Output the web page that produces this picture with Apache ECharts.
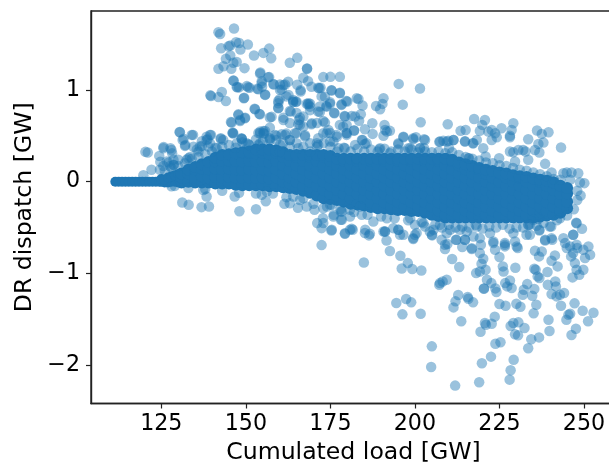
<!DOCTYPE html>
<html>
<head>
<meta charset="utf-8">
<script src="https://cdn.jsdelivr.net/npm/echarts@6/dist/echarts.min.js"></script>
<style>
html, body { margin: 0; padding: 0; background: #fff; }
#chart { width: 609px; height: 466px; }
</style>
</head>
<body>
<div id="chart"></div>
<script>
const xTicks = [125, 150, 175, 200, 225, 250];
const yTicks = [-2, -1, 0, 1];

// [load, dispatch]: the scattered points above the band
const upperPoints = [
[146.5,1.67],[141.9,1.63],[142.4,1.61],[142.7,1.455],[144.9,1.477],[145.4,1.484],[147.1,1.52],[148,1.513],[150.6,1.495],[148.4,1.44],
[156.9,1.451],[155.2,1.404],[152.4,1.375],[157.5,1.346],[165.2,1.35],[163,1.296],[168.1,1.23],[168.1,1.235],[145.4,1.375],[144.1,1.339],
[147.3,1.306],[141.9,1.23],[143.4,1.259],[145.7,1.23],[146.3,1.296],[149.6,1.238],[154.3,1.19],[156.9,1.14],[154.7,1.096],[146.4,1.1],
[147.3,1.031],[148,1.028],[150.3,1.042],[151.1,1.024],[153.4,1.013],[154.8,1.035],[155.7,0.951],[158.3,1.06],[160.1,1.06],[160.6,1.006],
[161.6,1.06],[162.5,1.089],[165.2,1.056],[166.2,0.998],[167,1.133],[168.4,1.096],[169.4,1.035],[171.4,1.024],[172.1,1.024],[172.9,1.14],
[175,1.143],[177.8,1.143],[175.3,0.998],[177.8,0.969],[173.4,0.926],[179.7,0.879],[178.3,0.843],[173.8,0.825],[171.9,0.759],[176.1,0.752],
[179.2,0.716],[172.9,0.662],[139.5,0.941],[139.7,0.933],[141.9,0.922],[142.9,0.977],[144.1,0.879],[149.5,0.915],[152.6,0.796],[147.8,0.734],
[149.8,0.698],[154.2,0.734],[145.6,0.651],[148.3,0.662],[157.6,0.708],[159.6,0.879],[159.6,0.806],[160,0.9],[164,0.868],[164.8,0.87],
[168.4,0.843],[169,0.85],[163,0.77],[161.1,0.698],[166,0.698],[165.5,0.625],[169.4,0.625],[167.5,0.506],[160.6,0.517],[162,0.524],
[155.2,0.553],[155.4,0.525],[157.1,0.589],[146.1,0.535],[148.8,0.469],[130.4,0.542],[131.6,0.469],[132.1,0.4],[134.4,0.51],[139.7,0.51],
[142.6,0.473],[138.7,0.462],[137,0.39],[120.3,0.325],[121,0.318],[125.7,0.379],[127.7,0.364],[128.2,0.31],[124.4,0.281],[124.7,0.216],
[127.2,0.21],[128.7,0.183],[122.1,0.129],[172.9,0.528],[174.9,0.53],[176.9,0.49],[171,0.42],[178.8,0.6],[179.8,0.53],[163,0.64],
[167,0.71],[169,0.78],[165,0.75],[162,0.93],[164,0.89],[168,0.85],[172.4,0.93],[174.9,0.85],[171.9,0.82],[167,0.6],[165,0.53],
[171,0.64],[163,0.455],[159,0.455],[153.7,0.53],[137,0.44],[138.4,0.49],[133.5,0.27],[135.5,0.35],[132.5,0.24],[143.3,0.455],[147.3,0.42],
[150.2,0.42],[154.2,0.42],[157.1,0.455],[139.4,0.42],[134.5,0.38],[128.6,0.24],[125.6,0.17],[127.6,0.17],[124.6,0.13],[119.7,0.07],
[195.2,1.066],[201.5,1.015],[196.4,0.84],[201.7,0.648],[209.7,0.626],[217.5,0.684],[220.7,0.673],[219.9,0.619],[190.7,0.91],[183.3,0.902],
[184.5,0.83],[188.5,0.826],[190.4,0.848],[189.7,0.79],[184,0.735],[181.3,0.717],[183.5,0.663],[187.4,0.637],[191,0.619],[185.2,0.572],
[182,0.557],[191.2,0.564],[192.6,0.554],[187.5,0.521],[190.7,0.5],[184.5,0.455],[185.2,0.412],[195.1,0.408],[196.6,0.485],[199.5,0.463],
[200.3,0.485],[202.7,0.463],[198,0.365],[201.5,0.365],[202.7,0.365],[189.5,0.354],[192.6,0.31],[207.2,0.434],[208.4,0.445],[209.9,0.445],
[211.4,0.455],[210.1,0.365],[213.5,0.554],[215,0.564],[214.8,0.441],[217.1,0.419],[218.3,0.455],[219.2,0.554],[220.2,0.365],[222.7,0.564],
[221.7,0.546],[223.7,0.528],[225.6,0.583],[229.1,0.637],[228.6,0.564],[224.2,0.485],[222.7,0.455],[228.1,0.5],[228.1,0.485],[228.1,0.328],
[229.1,0.32],[230.6,0.346],[232,0.346],[232.7,0.328],[233.5,0.463],[236.1,0.557],[237.5,0.521],[239.5,0.539],[238,0.426],[236.5,0.412],
[235.5,0.346],[236.8,0.318],[243.2,0.372],[220.9,0.274],[224.9,0.256],[216,0.256],[229.6,0.22],[233.5,0.238],[238.5,0.194],[240.4,0.1],
[243.9,0.092],[244.9,0.1],[246.3,0.1],[248.3,0.092],[248.8,-0.009],[250.1,-0.016],[245.9,0.02],
[175.9,0.437],[179.8,0.528],[184.3,0.455],[185.7,0.419],[189.7,0.364],[191.7,0.546],[195.1,0.419],[196.6,0.491],[199.5,0.473],[198.6,0.364],
[203,0.455],[201.5,0.364],[207.4,0.437],[209.4,0.437],[211.4,0.455],[214.8,0.437],[217.3,0.419],[215.8,0.255],[177.4,0.364],[182.8,0.255]
];

// second reading of the busy part above the band
const midPoints = [
[154.2,1.18],[156.6,1.138],[146.3,1.102],[147.5,1.029],[150.7,1.029],[149.4,0.909],[153.7,1.007],[154.7,1.073],[155.7,0.946],[158.1,1.065],
[161.1,1.055],[160.1,1],[162.6,0.946],[159.6,0.855],[159.6,0.8],[164,0.873],[165,0.873],[166.2,0.982],[168.5,0.855],[169,0.818],
[171.4,0.764],[173.9,0.818],[174.9,0.866],[171.7,1.018],[175.4,0.993],[177.8,0.964],[178.3,0.837],[180,0.873],[182.8,0.909],[176.2,0.746],
[179.3,0.71],[182.3,0.71],[177.8,0.619],[182,0.557],[179.8,0.619],[147.8,0.728],[149.7,0.691],[145.8,0.644],[148.3,0.673],[152.7,0.79],
[154,0.739],[157.1,0.699],[161.1,0.673],[163.3,0.764],[165.7,0.673],[166,0.619],[169.5,0.637],[173.4,0.644],[174.4,0.564],[154.2,0.546],
[155.2,0.528],[155.7,0.553],[158.6,0.51],[161.6,0.51],[164.5,0.528],[167.5,0.492],[171.4,0.473],[173.9,0.528],[176.8,0.51],[179.8,0.51],
[146.3,0.528],[148.7,0.474],[153.7,0.401],[157.1,0.474],[160.1,0.401],[163,0.455],[165.5,0.365],[171.4,0.401],[174.9,0.437],[179.3,0.365],
[182.3,0.401],[169,0.328],[160.1,0.328],
[130.5,0.539],[131.3,0.455],[132,0.39],[134,0.51],[139.4,0.51],[138.4,0.455],[142.6,0.466],[136.4,0.383],[138.9,0.383],[125.6,0.364],
[128,0.346],[126.6,0.219],[133,0.255],[128.6,0.183],[146.1,0.528],[148.8,0.466],[150.7,0.411],[141.4,0.364],[154.2,0.528]
];

// the scattered points below the band
const lowerPoints = [
[131.2,-0.227],[133.1,-0.253],[136.9,-0.278],[139.1,-0.271],[138.4,-0.162],[137.4,-0.09],[129,-0.046],[146.7,-0.162],[148.1,-0.322],[153,-0.3],
[155.9,-0.213],[154.7,-0.144],[161.4,-0.242],[165.4,-0.285],[170.3,-0.307],[172.9,-0.289],[172.8,-0.398],[171.1,-0.452],[172.9,-0.452],[172.4,-0.507],
[175.3,-0.532],[172.4,-0.692],[176,-0.362],[178.1,-0.325],[178.1,-0.416],[179.3,-0.569],[180.8,-0.525],[180.8,-0.38],[164,-0.162],[168,-0.27],
[167,-0.18],[174.9,-0.253],[163,-0.235],[156.2,-0.107],
[184.9,-0.881],[192.6,-0.757],[195.7,-0.808],[197.9,-0.888],[196.1,-0.946],[199.2,-0.953],[201.9,-0.968],[194.5,-1.324],[197.4,-1.28],[198.9,-1.316],
[196.3,-1.447],[201.7,-1.44],[205,-1.796],[204.8,-2.021],[211.9,-2.224],[219,-2.188],[219.8,-1.981],[222.5,-1.908],[229.2,-1.941],[228.3,-2.057],
[228,-2.159],[233.5,-1.817],[234.4,-1.719],[236.7,-1.698],[223.8,-1.767],[225.3,-1.752],[219.4,-1.636],[221,-1.56],[220.7,-1.542],[222.7,-1.549],
[223.6,-1.472],[213.7,-1.523],[211.4,-1.371],[212,-1.305],[212.8,-1.236],[215.6,-1.258],[215.8,-1.276],[217.2,-1.316],[225,-1.334],[226.8,-1.353],
[230,-1.331],[231.2,-1.364],[235.9,-1.342],[235.1,-1.436],[239.5,-1.505],[239.8,-1.629],[243.2,-1.353],[247.2,-1.327],[249.6,-1.407],[252.8,-1.429],
[251.2,-1.523],[247.6,-1.603],[246.3,-1.672],[245.9,-1.44],[245.4,-1.451],[244.8,-1.505],[228.3,-1.574],[229.1,-1.541],[230.6,-1.534],[232.4,-1.596],
[229.6,-1.665],[230.5,-1.676],[207.2,-1.124],[207.4,-1.106],[209.4,-1.069],[208.2,-1.088],[220.4,-1.164],[220.4,-1.167],[221.3,-1.069],[222.6,-1.106],
[223.8,-1.164],[224.1,-1.204],[226.7,-1.106],[228.1,-1.077],[227.3,-1.142],[228.6,-1.16],[233.2,-1.117],[235.3,-1.171],[232.2,-1.178],[231.9,-1.233],
[234.7,-1.244],[239.3,-1.124],[241.5,-1.088],[241.7,-1.142],[240.4,-1.226],[241.9,-1.251],[242.9,-1.233],[244.1,-1.215],[246.6,-1.044],[248.6,-1.015],
[249.8,-0.96],[247.8,-0.96],[247.3,-0.888],[250.3,-0.833],[251.8,-0.797],[251.3,-0.706],[249.8,-0.743],[247.8,-0.688],[248,-0.724],[245.9,-0.706],
[246.8,-0.779],[244.4,-0.67],[244.9,-0.724],[246.2,-0.815],[247.7,-0.448],[249.4,-0.514],[246.8,-0.579],[240.3,-0.488],[236.8,-0.532],[238.5,-0.641],
[240.6,-0.634],[235.5,-0.753],[236.7,-0.815],[237.5,-0.761],[241.4,-0.804],[240.4,-0.862],[242.2,-0.924],[239.2,-0.986],[235.3,-0.95],[235.7,-0.96],
[236.8,-1.051],[236.3,-1.033],[229.7,-0.939],[226,-0.924],[226.2,-0.979],[225,-0.822],[223.2,-0.652],[223.7,-0.743],[226.6,-0.67],[226.6,-0.706],
[229.6,-0.652],[230.4,-0.724],[216.8,-0.735],[219.5,-0.688],[219.2,-0.779],[220.2,-0.841],[219.7,-0.895],[220.9,-0.96],[218.1,-0.997],[219.2,-0.979],
[211,-0.844],[213.1,-0.931],[208.9,-0.735],[209.6,-0.681],[207.9,-0.634],[212.1,-0.634],[214.8,-0.634],[214,-0.713],[191.6,-0.641],[186.4,-0.586],
[185.2,-0.561],[181.6,-0.525],[191.1,-0.543],[195.1,-0.525],[196.6,-0.579],[199.5,-0.626],[200.5,-0.561],[205.1,-0.586],[233.6,-0.47],[234,-0.579],
[236.5,-0.408],[175.4,-0.253],[178.4,-0.326],[175.9,-0.38],[178.4,-0.416],[175.4,-0.525],[179.3,-0.562],[181.3,-0.514],[185.3,-0.525],[186.7,-0.569],
[187.7,-0.435],[184.3,-0.362],[191.2,-0.544],[195.1,-0.525],[191.7,-0.398],[198.6,-0.398],[200,-0.58],[205.5,-0.525],[210.4,-0.525],[202.5,-0.453],
[207.4,-0.471],[217.3,-0.598],[213.3,-0.525],[218.3,-0.489],[180.8,-0.307],[183.8,-0.271],
[199.5,-0.616],[195.6,-0.58],[205,-0.58],[208.9,-0.689],[212.3,-0.634],[214.8,-0.634],[216.8,-0.725],[219.2,-0.616],[223.2,-0.67],[226.6,-0.689],
[230.1,-0.707],[233,-0.58],[236.8,-0.525],[239.9,-0.489],[240.4,-0.616],[243.9,-0.616],[238.5,-0.634],[235,-0.416],[233.5,-0.471],[247.8,-0.453],
[246.8,-0.58],[242.9,-0.398],[209.4,-0.562],[215.3,-0.544],[222.2,-0.562],[229.1,-0.562],[190.7,-0.543],[193.6,-0.507],[204.4,-0.543]
];

// points on the rim of the solid band
const rimPoints = [
[126,0.12],[128,0.15],[130,0.17],[130,0.24],[132,0.2],[134,0.25],[136,0.27],[138,0.3],[140,0.33],[136,0.33],[141,0.37],[143,0.38],[145,0.4],[147,0.37],
[149,0.43],[151,0.4],[153,0.46],[155,0.44],[157,0.47],[159,0.5],[161,0.42],[163,0.38],[165,0.42],[167,0.38],[169,0.42],[171,0.38],[173,0.42],[175,0.38],
[177,0.33],[179,0.37],[181,0.33],[183,0.36],[185,0.33],[187,0.35],[189,0.33],[191,0.36],[193,0.33],[195,0.35],[197,0.33],[199,0.35],[201,0.32],[203,0.33],
[205,0.32],[207,0.33],[209,0.31],[211,0.32],[213,0.29],[215,0.27],[217,0.25],[219,0.23],[221,0.21],[223,0.2],[225,0.18],[227,0.17],[229,0.15],[231,0.13],
[233,0.12],[235,0.1],[237,0.08],[239,0.06],[241,0.03],[243,0.02],
[128,-0.05],[133,-0.07],[138,-0.08],[143,-0.1],[148,-0.12],[153,-0.13],[158,-0.13],[162,-0.17],[166,-0.2],[170,-0.24],[174,-0.27],[178,-0.3],[182,-0.33],
[186,-0.36],[190,-0.38],[194,-0.4],[198,-0.42],[202,-0.44],[206,-0.47],[210,-0.47],[214,-0.49],[218,-0.47],[222,-0.49],[226,-0.47],[230,-0.5],[234,-0.47],
[238,-0.45],[242,-0.42],[245,-0.37],[248,-0.2],[248,-0.1],[247,-0.3],[249,-0.15],
[200,-0.47],[203,-0.49],[208,-0.5],[212,-0.5],[216,-0.5],[220,-0.51],[224,-0.5],[228,-0.51],[232,-0.5],[236,-0.48]
];

// the narrow left end of the band
const tailPoints = [
[111.4,0],[112.4,0],[113.4,0],[114.4,0],[115.4,0],[116.4,0],[117.4,0],[118.4,0],[119.4,0],[120.4,0],[121.4,0],[122.4,0],[123.4,0],[124.4,0],
[125,0],[126,-0.01],[127,-0.01],[128,0],[129,0],[130,-0.01],[125,0.03],[126,0.02],[127,0.045],[128,0.06],[129,0.07],[130,0.08]
];

// the band around zero where the points pile up to a solid colour
const corePoints = [
[131,-0.01],[131,0.045],[131,0.09],[133,0],[133,0.09],[133,0.13],[135,-0.01],[135,0.045],[135,0.135],[135,0.16],
[137,-0.01],[137,0.06],[137,0.14],[137,0.19],[139,-0.01],[139,0.045],[139,0.135],[139,0.215],
[141,-0.02],[141,0.05],[141,0.14],[141,0.22],[141,0.26],[143,-0.02],[143,0.045],[143,0.135],[143,0.225],[143,0.29],
[145,-0.02],[145,0.05],[145,0.14],[145,0.23],[145,0.3],[147,-0.035],[147,0.045],[147,0.135],[147,0.225],[147,0.31],
[149,-0.04],[149,0.04],[149,0.13],[149,0.22],[149,0.32],[151,-0.04],[151,0.045],[151,0.135],[151,0.225],[151,0.315],[151,0.33],
[153,-0.04],[153,0.04],[153,0.13],[153,0.22],[153,0.31],[153,0.35],[155,-0.04],[155,0.045],[155,0.135],[155,0.225],[155,0.315],[155,0.35],
[157,-0.05],[157,0.03],[157,0.12],[157,0.21],[157,0.3],[157,0.35],[159,-0.05],[159,0.045],[159,0.135],[159,0.225],[159,0.315],[159,0.34],
[161,-0.06],[161,0],[161,0.09],[161,0.18],[161,0.27],[161,0.32],[163,-0.07],[163,-0.02],[163,0.045],[163,0.135],[163,0.225],[163,0.29],
[165,-0.08],[165,0],[165,0.09],[165,0.18],[165,0.27],[165,0.29],[167,-0.1],[167,-0.045],[167,0.045],[167,0.135],[167,0.225],[167,0.29],
[169,-0.12],[169,-0.06],[169,0],[169,0.09],[169,0.18],[169,0.27],[169,0.29],[171,-0.15],[171,-0.045],[171,0.045],[171,0.135],[171,0.225],[171,0.29],
[173,-0.18],[173,-0.09],[173,0],[173,0.09],[173,0.18],[173,0.27],[173,0.29],[175,-0.19],[175,-0.135],[175,-0.045],[175,0.045],[175,0.135],[175,0.225],[175,0.28],
[177,-0.2],[177,-0.09],[177,0],[177,0.09],[177,0.18],[177,0.25],[179,-0.22],[179,-0.135],[179,-0.045],[179,0.045],[179,0.135],[179,0.225],[179,0.25],
[181,-0.24],[181,-0.18],[181,-0.09],[181,0],[181,0.09],[181,0.18],[181,0.25],[183,-0.25],[183,-0.135],[183,-0.045],[183,0.045],[183,0.135],[183,0.225],[183,0.25],
[185,-0.26],[185,-0.18],[185,-0.09],[185,0],[185,0.09],[185,0.18],[185,0.25],[187,-0.275],[187,-0.225],[187,-0.135],[187,-0.045],[187,0.045],[187,0.135],[187,0.225],[187,0.25],
[189,-0.29],[189,-0.18],[189,-0.09],[189,0],[189,0.09],[189,0.18],[189,0.25],[191,-0.29],[191,-0.225],[191,-0.135],[191,-0.045],[191,0.045],[191,0.135],[191,0.225],[191,0.25],
[193,-0.3],[193,-0.27],[193,-0.18],[193,-0.09],[193,0],[193,0.09],[193,0.18],[193,0.25],[195,-0.31],[195,-0.225],[195,-0.135],[195,-0.045],[195,0.045],[195,0.135],[195,0.225],[195,0.25],
[197,-0.31],[197,-0.27],[197,-0.18],[197,-0.09],[197,0],[197,0.09],[197,0.18],[197,0.25],[199,-0.32],[199,-0.225],[199,-0.135],[199,-0.045],[199,0.045],[199,0.135],[199,0.225],[199,0.25],
[201,-0.32],[201,-0.27],[201,-0.18],[201,-0.09],[201,0],[201,0.09],[201,0.18],[201,0.25],[203,-0.34],[203,-0.315],[203,-0.225],[203,-0.135],[203,-0.045],[203,0.045],[203,0.135],[203,0.225],[203,0.25],
[205,-0.36],[205,-0.27],[205,-0.18],[205,-0.09],[205,0],[205,0.09],[205,0.18],[205,0.25],[207,-0.375],[207,-0.315],[207,-0.225],[207,-0.135],[207,-0.045],[207,0.045],[207,0.135],[207,0.225],[207,0.25],
[209,-0.39],[209,-0.36],[209,-0.27],[209,-0.18],[209,-0.09],[209,0],[209,0.09],[209,0.18],[209,0.25],[211,-0.39],[211,-0.315],[211,-0.225],[211,-0.135],[211,-0.045],[211,0.045],[211,0.135],[211,0.225],[211,0.24],
[213,-0.39],[213,-0.36],[213,-0.27],[213,-0.18],[213,-0.09],[213,0],[213,0.09],[213,0.18],[213,0.21],[215,-0.39],[215,-0.315],[215,-0.225],[215,-0.135],[215,-0.045],[215,0.045],[215,0.135],[215,0.19],
[217,-0.39],[217,-0.36],[217,-0.27],[217,-0.18],[217,-0.09],[217,0],[217,0.09],[217,0.17],[219,-0.39],[219,-0.315],[219,-0.225],[219,-0.135],[219,-0.045],[219,0.045],[219,0.135],[219,0.15],
[221,-0.39],[221,-0.36],[221,-0.27],[221,-0.18],[221,-0.09],[221,0],[221,0.09],[221,0.13],[223,-0.39],[223,-0.315],[223,-0.225],[223,-0.135],[223,-0.045],[223,0.045],[223,0.115],
[225,-0.39],[225,-0.36],[225,-0.27],[225,-0.18],[225,-0.09],[225,0],[225,0.09],[225,0.1],[227,-0.39],[227,-0.315],[227,-0.225],[227,-0.135],[227,-0.045],[227,0.045],[227,0.09],
[229,-0.39],[229,-0.36],[229,-0.27],[229,-0.18],[229,-0.09],[229,0],[229,0.07],[231,-0.39],[231,-0.315],[231,-0.225],[231,-0.135],[231,-0.045],[231,0.045],[231,0.06],
[233,-0.39],[233,-0.36],[233,-0.27],[233,-0.18],[233,-0.09],[233,0],[233,0.05],[235,-0.39],[235,-0.315],[235,-0.225],[235,-0.135],[235,-0.045],[235,0.035],
[237,-0.38],[237,-0.36],[237,-0.27],[237,-0.18],[237,-0.09],[237,0],[237,0.02],[239,-0.37],[239,-0.315],[239,-0.225],[239,-0.135],[239,-0.045],[239,0.01],
[241,-0.36],[241,-0.27],[241,-0.18],[241,-0.09],[241,-0.01],[243,-0.34],[243,-0.315],[243,-0.225],[243,-0.135],[243,-0.045],[245,-0.29],[245,-0.22],[245,-0.13],[245,-0.07]
];

const chart = echarts.init(document.getElementById('chart'));

const pointStyle = { color: '#1f77b4', opacity: 0.45 };
const solidStyle = { color: '#1f77b4', opacity: 1 };

chart.setOption({
    animation: false,
    grid: {
        left: 91, top: 11, width: 525, height: 392.5,
        outerBoundsMode: 'none',
        show: true, borderColor: '#222', borderWidth: 1.4
    },
    xAxis: {
        type: 'value', min: 104.21, max: 259.46,
        name: 'Cumulated load [GW]', nameLocation: 'middle', nameGap: 37,
        nameTextStyle: { fontFamily: 'DejaVu Sans', fontSize: 23.6, color: '#000', verticalAlign: 'top' },
        splitLine: { show: false },
        axisLine: { onZero: false, lineStyle: { color: '#222', width: 1.4 } },
        axisTick: { length: 5, customValues: xTicks, lineStyle: { color: '#222', width: 1.2 } },
        axisLabel: { customValues: xTicks, margin: 10, fontFamily: 'DejaVu Sans', fontSize: 22.2, color: '#000' }
    },
    yAxis: {
        type: 'value', min: -2.419, max: 1.861,
        name: 'DR dispatch [GW]', nameLocation: 'middle', nameGap: 47,
        nameTextStyle: { fontFamily: 'DejaVu Sans', fontSize: 23.6, color: '#000' },
        splitLine: { show: false },
        axisLine: { onZero: false, lineStyle: { color: '#222', width: 1.4 } },
        axisTick: { length: 5, customValues: yTicks, lineStyle: { color: '#222', width: 1.2 } },
        axisLabel: {
            customValues: yTicks, margin: 11, fontFamily: 'DejaVu Sans', fontSize: 22.2, color: '#000',
            formatter: v => String(v).replace('-', '\u2212')
        }
    },
    series: [
        { type: 'scatter', data: tailPoints, symbolSize: 10, silent: true, itemStyle: solidStyle },
        { type: 'scatter', data: corePoints, symbolSize: 12, silent: true, itemStyle: solidStyle },
        { type: 'scatter', data: rimPoints, symbolSize: 10.5, silent: true, itemStyle: pointStyle },
        { type: 'scatter', data: upperPoints, symbolSize: 10.5, silent: true, itemStyle: pointStyle },
        { type: 'scatter', data: midPoints, symbolSize: 10.5, silent: true, itemStyle: pointStyle },
        { type: 'scatter', data: lowerPoints, symbolSize: 10.5, silent: true, itemStyle: pointStyle }
    ]
});
window.addEventListener('resize', () => chart.resize());
</script>
</body>
</html>
